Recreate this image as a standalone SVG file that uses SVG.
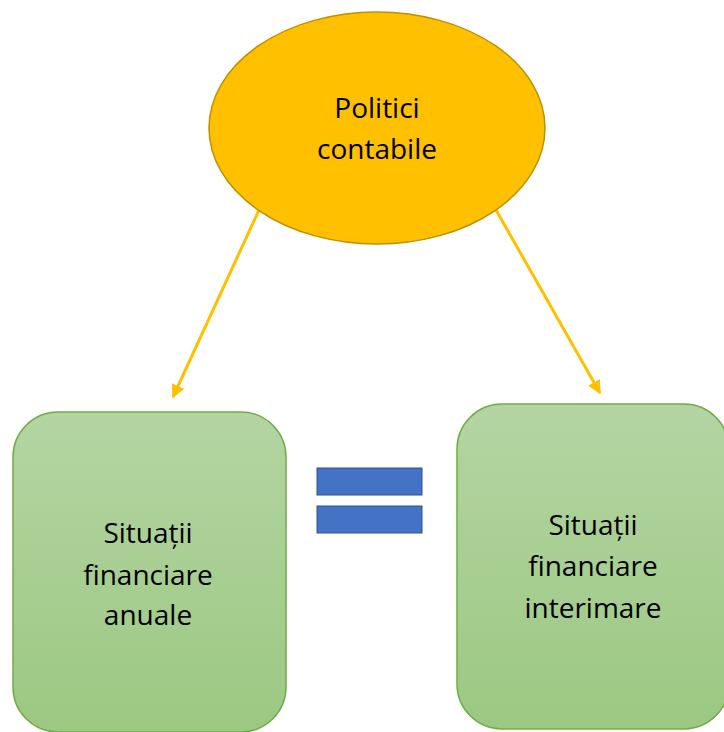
<svg xmlns="http://www.w3.org/2000/svg" width="724" height="732" viewBox="0 0 724 732">
<style>
.t{font-family:"Open Sans","Liberation Sans",sans-serif;font-size:28px;fill:#000;text-anchor:middle}
.box{fill:url(#g);stroke:#70ad47;stroke-width:1.5}
.eq{fill:#4472c4;stroke:#2f528f;stroke-width:1}
.c{stroke:#ffc000;stroke-width:3;fill:none;marker-end:url(#a)}
</style>
<defs>
<linearGradient id="g" x1="0" y1="0" x2="0" y2="1">
<stop offset="0" stop-color="#b4d5a3"/>
<stop offset="1" stop-color="#9cc882"/>
</linearGradient>
<marker id="a" viewBox="0 0 10 10" refX="9" refY="5" markerWidth="4.5" markerHeight="4.5" orient="auto" markerUnits="strokeWidth">
<path d="M0,0 L10,5 L0,10 z" fill="#ffc000"/>
</marker>
</defs>
<g id="connectors">
<line class="c" x1="259" y1="210" x2="173" y2="397"/>
<line class="c" x1="496" y1="210" x2="600" y2="393"/>
</g>
<g id="politici">
<ellipse cx="377" cy="128" rx="168" ry="116" fill="#ffc000" stroke="#bf9000" stroke-width="1.5"/>
<text class="t" x="377" y="118">Politici</text>
<text class="t" x="377" y="159">contabile</text>
</g>
<g id="anuale">
<rect class="box" x="13" y="412" width="273" height="320" rx="45"/>
<text class="t" x="148" y="543">Situații</text>
<text class="t" x="148" y="585">financiare</text>
<text class="t" x="148" y="625">anuale</text>
</g>
<g id="egal">
<rect class="eq" x="317" y="468" width="105" height="27"/>
<rect class="eq" x="317" y="506" width="105" height="27"/>
</g>
<g id="interimare">
<rect class="box" x="457" y="404" width="272" height="325" rx="45"/>
<text class="t" x="593" y="535">Situații</text>
<text class="t" x="593" y="576">financiare</text>
<text class="t" x="593" y="618">interimare</text>
</g>
</svg>
